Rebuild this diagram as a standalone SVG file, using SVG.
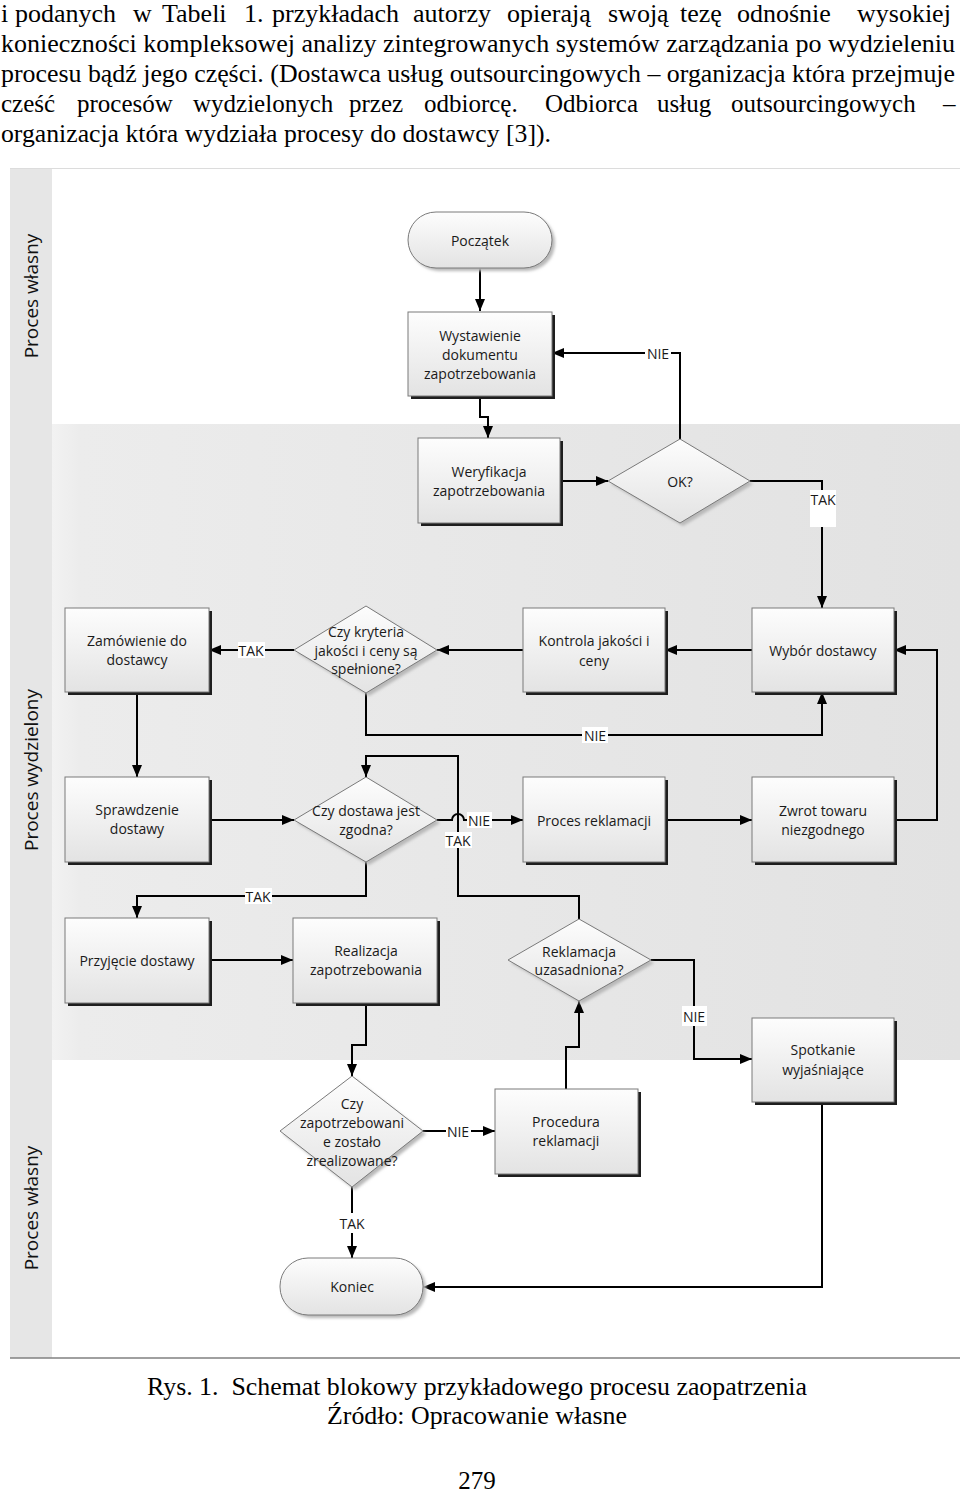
<svg xmlns="http://www.w3.org/2000/svg" width="960" height="1492" viewBox="0 0 960 1492">
<defs>
<linearGradient id="gBox" x1="0" y1="0" x2="0" y2="1">
<stop offset="0" stop-color="#fdfdfd"/>
<stop offset="1" stop-color="#e3e3e3"/>
</linearGradient>
<linearGradient id="gLane2" x1="0" y1="0" x2="1" y2="0">
<stop offset="0" stop-color="#f2f2f2"/>
<stop offset="0.03" stop-color="#ececec"/>
<stop offset="1" stop-color="#e2e2e2"/>
</linearGradient>
<filter id="blur" x="-10%" y="-10%" width="120%" height="120%">
<feGaussianBlur stdDeviation="1.5"/>
</filter>
<marker id="ah" viewBox="0 0 12 10" refX="12" refY="5" markerWidth="12" markerHeight="10" markerUnits="userSpaceOnUse" orient="auto">
<path d="M0,0 L12,5 L0,10 z" fill="#000"/>
</marker>
<style>
.para{font-family:"Liberation Serif","Times New Roman",serif;font-size:25px;fill:#000;}
.paraw{font-family:"Liberation Serif","Times New Roman",serif;font-size:26px;fill:#000;}
.cap{font-family:"Liberation Serif","Times New Roman",serif;font-size:25px;fill:#000;text-anchor:middle;}
.lane{font-family:"Open Sans","Liberation Sans",sans-serif;font-size:19px;fill:#111;text-anchor:middle;}
.lbl{font-family:"Open Sans","Liberation Sans",sans-serif;font-size:14px;fill:#1a1a1a;text-anchor:middle;dominant-baseline:central;}
.box{fill:url(#gBox);stroke:#7a7a7a;stroke-width:1;}
.shd{fill:#1e1e1e;}
.soft{fill:#b8b8b8;filter:url(#blur);}
.conn{fill:none;stroke:#000;stroke-width:2;}
.arr{marker-end:url(#ah);}
.lb{fill:#fff;}
</style>
</defs>

<rect x="0" y="0" width="960" height="1492" fill="#fff"/>

<g id="paragraph">
<text class="paraw" y="22"><tspan x="1">i</tspan> <tspan x="15">podanych</tspan> <tspan x="133">w</tspan> <tspan x="162">Tabeli</tspan> <tspan x="244">1.</tspan> <tspan x="272">przykładach</tspan> <tspan x="413">autorzy</tspan> <tspan x="507">opierają</tspan> <tspan x="608">swoją</tspan> <tspan x="680">tezę</tspan> <tspan x="737">odnośnie</tspan> <tspan x="857">wysokiej</tspan></text>
<text class="para" x="1" y="52" textLength="954" lengthAdjust="spacingAndGlyphs">konieczności kompleksowej analizy zintegrowanych systemów zarządzania po wydzieleniu</text>
<text class="para" x="1" y="82" textLength="954" lengthAdjust="spacingAndGlyphs">procesu bądź jego części. (Dostawca usług outsourcingowych – organizacja która przejmuje</text>
<text class="para" y="112"><tspan x="1">cześć</tspan> <tspan x="77">procesów</tspan> <tspan x="193">wydzielonych</tspan> <tspan x="349">przez</tspan> <tspan x="424">odbiorcę.</tspan> <tspan x="545">Odbiorca</tspan> <tspan x="657">usług</tspan> <tspan x="731">outsourcingowych</tspan> <tspan x="943">–</tspan></text>
<text class="para" x="1" y="142" textLength="550" lengthAdjust="spacingAndGlyphs">organizacja która wydziała procesy do dostawcy [3]).</text>
</g>

<g id="lanes">
<rect x="10" y="168" width="950" height="1190" fill="#e6e6e6"/>
<rect x="52" y="168" width="908" height="256" fill="#fff"/>
<rect x="52" y="424" width="908" height="636" fill="url(#gLane2)"/>
<rect x="52" y="1060" width="908" height="298" fill="#fff"/>
<line x1="10" y1="168.5" x2="960" y2="168.5" stroke="#dcdcdc" stroke-width="1"/>
<line x1="10" y1="1358" x2="960" y2="1358" stroke="#808080" stroke-width="1.5"/>
<text class="lane" transform="translate(38,296) rotate(-90)">Proces własny</text>
<text class="lane" transform="translate(38,770) rotate(-90)">Proces wydzielony</text>
<text class="lane" transform="translate(38,1208) rotate(-90)">Proces własny</text>
</g>

<g id="connectors">
<path class="conn arr" d="M480,268 V311"/>
<path class="conn arr" d="M480,396 V417 H488 V438"/>
<path class="conn arr" d="M560,481 H608"/>
<path class="conn arr" d="M680,439 V353 H552"/>
<path class="conn arr" d="M750,481 H822 V608"/>
<path class="conn arr" d="M752,650 H665"/>
<path class="conn arr" d="M523,650 H437"/>
<path class="conn arr" d="M294,650 H209"/>
<path class="conn arr" d="M366,693 V735 H822 V692"/>
<path class="conn arr" d="M137,692 V777"/>
<path class="conn arr" d="M209,820 H294"/>
<path class="conn arr" d="M437,820 H452 A6,6 0 0 1 464,820 H523"/>
<path class="conn arr" d="M665,820 H752"/>
<path class="conn arr" d="M894,820 H937 V650 H894"/>
<path class="conn arr" d="M366,862 V896 H137 V918"/>
<path class="conn arr" d="M579,919 V896 H458 V756 H366 V777"/>
<path class="conn arr" d="M209,960 H293"/>
<path class="conn arr" d="M366,1003 V1045 H352 V1076"/>
<path class="conn arr" d="M651,960 H694 V1059 H752"/>
<path class="conn arr" d="M423,1131 H495"/>
<path class="conn arr" d="M566,1089 V1047 H579 V1001"/>
<path class="conn arr" d="M352,1187 V1258"/>
<path class="conn arr" d="M822,1102 V1287 H423"/>
<g id="conn-labels">
<rect class="lb" x="645" y="345" width="26" height="16"/><text class="lbl" x="658" y="353">NIE</text>
<rect class="lb" x="810" y="490" width="26" height="37"/><text class="lbl" x="823" y="499">TAK</text>
<rect class="lb" x="238" y="642" width="27" height="16"/><text class="lbl" x="251" y="650">TAK</text>
<rect class="lb" x="582" y="727" width="26" height="16"/><text class="lbl" x="595" y="735">NIE</text>
<rect class="lb" x="467" y="812" width="25" height="16"/><text class="lbl" x="479" y="820">NIE</text>
<rect class="lb" x="445" y="832" width="27" height="16"/><text class="lbl" x="458" y="840">TAK</text>
<rect class="lb" x="245" y="888" width="27" height="16"/><text class="lbl" x="258" y="896">TAK</text>
<rect class="lb" x="682" y="1006" width="25" height="20"/><text class="lbl" x="694" y="1016">NIE</text>
<rect class="lb" x="446" y="1123" width="25" height="16"/><text class="lbl" x="458" y="1131">NIE</text>
<rect class="lb" x="338" y="1213" width="27" height="20"/><text class="lbl" x="352" y="1223">TAK</text>
</g>
</g>

<g id="n-poczatek">
<rect class="soft" x="411" y="215" width="144" height="56" rx="28"/>
<rect class="box" x="408" y="212" width="144" height="56" rx="28"/>
<text class="lbl" x="480" y="240">Początek</text>
</g>
<g id="n-wystawienie">
<rect class="shd" x="411" y="315" width="144" height="84"/>
<rect class="box" x="408" y="312" width="144" height="84"/>
<text class="lbl" x="480" y="335">Wystawienie</text>
<text class="lbl" x="480" y="354">dokumentu</text>
<text class="lbl" x="480" y="373">zapotrzebowania</text>
</g>
<g id="n-weryfikacja">
<rect class="shd" x="421" y="441" width="142" height="85"/>
<rect class="box" x="418" y="438" width="142" height="85"/>
<text class="lbl" x="489" y="471">Weryfikacja</text>
<text class="lbl" x="489" y="490">zapotrzebowania</text>
</g>
<g id="n-ok">
<polygon class="soft" points="683,442 753,484 683,526 611,484"/>
<polygon class="box" points="680,439 750,481 680,523 608,481"/>
<text class="lbl" x="680" y="481">OK?</text>
</g>
<g id="n-zamowienie">
<rect class="shd" x="68" y="611" width="144" height="84"/>
<rect class="box" x="65" y="608" width="144" height="84"/>
<text class="lbl" x="137" y="640">Zamówienie do</text>
<text class="lbl" x="137" y="659">dostawcy</text>
</g>
<g id="n-kryteria">
<polygon class="soft" points="369,609 440,653 369,696 297,653"/>
<polygon class="box" points="366,606 437,650 366,693 294,650"/>
<text class="lbl" x="366" y="631">Czy kryteria</text>
<text class="lbl" x="366" y="650">jakości i ceny są</text>
<text class="lbl" x="366" y="668">spełnione?</text>
</g>
<g id="n-kontrola">
<rect class="shd" x="526" y="611" width="142" height="84"/>
<rect class="box" x="523" y="608" width="142" height="84"/>
<text class="lbl" x="594" y="640">Kontrola jakości i</text>
<text class="lbl" x="594" y="660">ceny</text>
</g>
<g id="n-wybor">
<rect class="shd" x="755" y="611" width="142" height="84"/>
<rect class="box" x="752" y="608" width="142" height="84"/>
<text class="lbl" x="823" y="650">Wybór dostawcy</text>
</g>
<g id="n-sprawdzenie">
<rect class="shd" x="68" y="780" width="144" height="85"/>
<rect class="box" x="65" y="777" width="144" height="85"/>
<text class="lbl" x="137" y="809">Sprawdzenie</text>
<text class="lbl" x="137" y="828">dostawy</text>
</g>
<g id="n-zgodna">
<polygon class="soft" points="369,780 440,823 369,865 297,823"/>
<polygon class="box" points="366,777 437,820 366,862 294,820"/>
<text class="lbl" x="366" y="810">Czy dostawa jest</text>
<text class="lbl" x="366" y="829">zgodna?</text>
</g>
<g id="n-proces-reklamacji">
<rect class="shd" x="526" y="780" width="142" height="85"/>
<rect class="box" x="523" y="777" width="142" height="85"/>
<text class="lbl" x="594" y="820">Proces reklamacji</text>
</g>
<g id="n-zwrot">
<rect class="shd" x="755" y="780" width="142" height="85"/>
<rect class="box" x="752" y="777" width="142" height="85"/>
<text class="lbl" x="823" y="810">Zwrot towaru</text>
<text class="lbl" x="823" y="829">niezgodnego</text>
</g>
<g id="n-przyjecie">
<rect class="shd" x="68" y="921" width="144" height="85"/>
<rect class="box" x="65" y="918" width="144" height="85"/>
<text class="lbl" x="137" y="960">Przyjęcie dostawy</text>
</g>
<g id="n-realizacja">
<rect class="shd" x="296" y="921" width="144" height="85"/>
<rect class="box" x="293" y="918" width="144" height="85"/>
<text class="lbl" x="366" y="950">Realizacja</text>
<text class="lbl" x="366" y="969">zapotrzebowania</text>
</g>
<g id="n-uzasadniona">
<polygon class="soft" points="582,922 654,963 582,1004 511,963"/>
<polygon class="box" points="579,919 651,960 579,1001 508,960"/>
<text class="lbl" x="579" y="951">Reklamacja</text>
<text class="lbl" x="579" y="969">uzasadniona?</text>
</g>
<g id="n-spotkanie">
<rect class="shd" x="755" y="1021" width="142" height="84"/>
<rect class="box" x="752" y="1018" width="142" height="84"/>
<text class="lbl" x="823" y="1049">Spotkanie</text>
<text class="lbl" x="823" y="1069">wyjaśniające</text>
</g>
<g id="n-zrealizowane">
<polygon class="soft" points="355,1079 426,1134 355,1190 283,1134"/>
<polygon class="box" points="352,1076 423,1131 352,1187 280,1131"/>
<text class="lbl" x="352" y="1103">Czy</text>
<text class="lbl" x="352" y="1122">zapotrzebowani</text>
<text class="lbl" x="352" y="1141">e zostało</text>
<text class="lbl" x="352" y="1160">zrealizowane?</text>
</g>
<g id="n-procedura">
<rect class="shd" x="498" y="1092" width="143" height="85"/>
<rect class="box" x="495" y="1089" width="143" height="85"/>
<text class="lbl" x="566" y="1121">Procedura</text>
<text class="lbl" x="566" y="1140">reklamacji</text>
</g>
<g id="n-koniec">
<rect class="soft" x="283" y="1261" width="143" height="57" rx="28"/>
<rect class="box" x="280" y="1258" width="143" height="57" rx="28"/>
<text class="lbl" x="352" y="1286">Koniec</text>
</g>

<g id="caption">
<text class="cap" x="477" y="1395" textLength="660" lengthAdjust="spacingAndGlyphs" xml:space="preserve">Rys. 1.  Schemat blokowy przykładowego procesu zaopatrzenia</text>
<text class="cap" x="477" y="1424" textLength="300" lengthAdjust="spacingAndGlyphs">Źródło: Opracowanie własne</text>
<text class="cap" x="477" y="1489">279</text>
</g>
</svg>
